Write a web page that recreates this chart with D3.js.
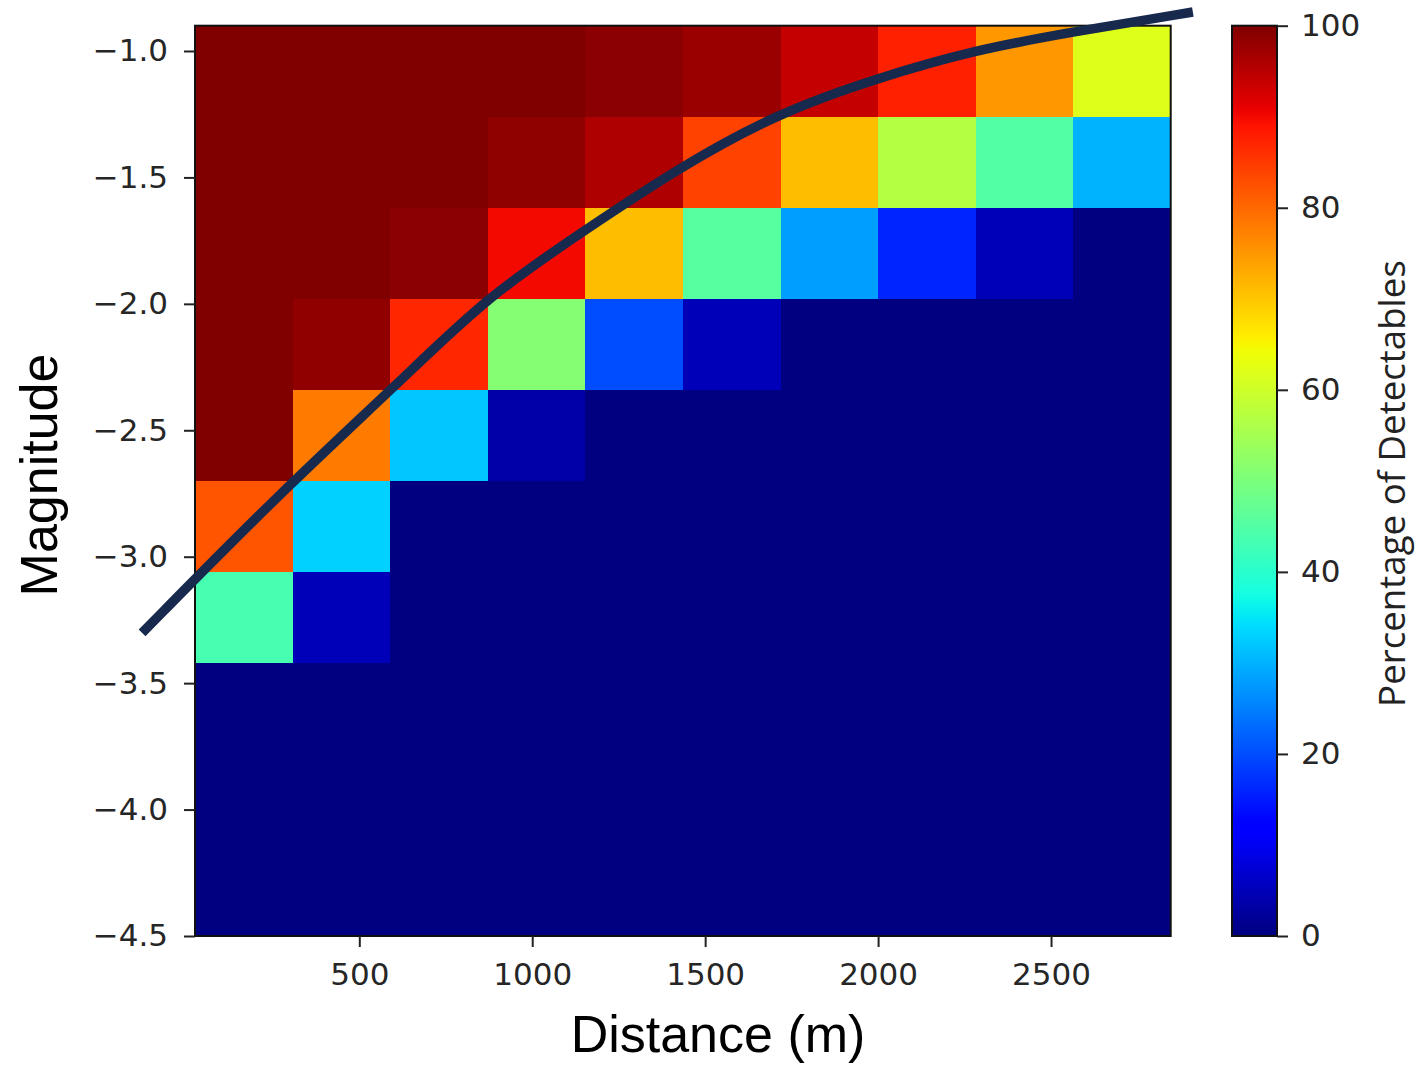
<!DOCTYPE html>
<html>
<head>
<meta charset="utf-8">
<script src="https://cdn.jsdelivr.net/npm/d3@7"></script>
<style>
  body { margin: 0; background: #ffffff; }
  svg { display: block; }
</style>
</head>
<body>
<svg id="chart" width="1417" height="1066"></svg>
<script>
// ---------------- DATA ----------------
// Distance bin edges (m)
const distanceEdges = [25, 307, 589, 871, 1153, 1435, 1718, 2000, 2282, 2564, 2846];
// Magnitude bin edges, top to bottom
const magnitudeEdges = [-0.90, -1.26, -1.62, -1.98, -2.34, -2.70, -3.06, -3.42, -3.78, -4.14, -4.50];
// Percentage of detectables, one array per magnitude row (top row first)
const row1 = [100, 100, 100, 100, 99, 97.7, 94, 87.6, 75, 62];
const row2 = [100, 100, 100, 98.7, 96, 84, 71, 57, 45, 30];
const row3 = [100, 100, 99, 90, 71, 45.5, 28, 16, 5, 0];
const row4 = [100, 98.6, 87, 51, 20, 5, 0, 0, 0, 0];
const row5 = [100, 78, 32, 3.5, 0, 0, 0, 0, 0, 0];
const row6 = [82, 33, 0, 0, 0, 0, 0, 0, 0, 0];
const row7 = [43.5, 5, 0, 0, 0, 0, 0, 0, 0, 0];
const row8 = [0, 0, 0, 0, 0, 0, 0, 0, 0, 0];
const row9 = [0, 0, 0, 0, 0, 0, 0, 0, 0, 0];
const row10 = [0, 0, 0, 0, 0, 0, 0, 0, 0, 0];
const detectRows = [row1, row2, row3, row4, row5, row6, row7, row8, row9, row10];

// Detection threshold curve (distance m, magnitude)
const curveDistance = [-128, 271, 623, 869, 1153, 1427, 1711, 1997, 2280, 2561, 2910];
const curveMagnitude = [-3.301, -2.747, -2.301, -1.972, -1.708, -1.459, -1.245, -1.107, -0.996, -0.925, -0.846];

// Tick labels
const xTicks = [500, 1000, 1500, 2000, 2500];
const yTicks = [-1.0, -1.5, -2.0, -2.5, -3.0, -3.5, -4.0, -4.5];
const cbTicks = [0, 20, 40, 60, 80, 100];

// ---------------- JET COLORMAP (matplotlib segment data) ----------------
const jetSeg = {
  r: [[0, 0], [0.35, 0], [0.66, 1], [0.89, 1], [1, 0.5]],
  g: [[0, 0], [0.125, 0], [0.375, 1], [0.64, 1], [0.91, 0], [1, 0]],
  b: [[0, 0.5], [0.11, 1], [0.34, 1], [0.65, 0], [1, 0]]
};
function seg(pts, t) {
  for (let i = 1; i < pts.length; i++) {
    if (t <= pts[i][0]) {
      const [x0, y0] = pts[i - 1], [x1, y1] = pts[i];
      return y0 + (y1 - y0) * (t - x0) / (x1 - x0);
    }
  }
  return pts[pts.length - 1][1];
}
function jet(t) {
  t = Math.max(0, Math.min(1, t));
  return d3.rgb(seg(jetSeg.r, t) * 255, seg(jetSeg.g, t) * 255, seg(jetSeg.b, t) * 255).formatHex();
}

// ---------------- LAYOUT ----------------
const svg = d3.select("#chart");
const plot = { left: 195, right: 1170.7, top: 25.7, bottom: 936 };
const cb = { left: 1232, right: 1277, top: 25.7, bottom: 936 };

const x = d3.scaleLinear().domain([25, 2846]).range([plot.left, plot.right]);
const y = d3.scaleLinear().domain([-4.5, -0.9]).range([plot.bottom, plot.top]);
const color = d3.scaleSequential(v => jet(v)).domain([0, 100]);

const tickFont = "'DejaVu Sans', sans-serif";
const tickColor = "#262626";

// ---------------- HEATMAP CELLS ----------------
const cells = [];
detectRows.forEach((row, ri) => {
  row.forEach((v, ci) => {
    cells.push({
      x0: distanceEdges[ci], x1: distanceEdges[ci + 1],
      yTop: magnitudeEdges[ri], yBot: magnitudeEdges[ri + 1], v
    });
  });
});
svg.append("g").selectAll("rect").data(cells).join("rect")
  .attr("x", d => x(d.x0))
  .attr("y", d => y(d.yTop))
  .attr("width", d => x(d.x1) - x(d.x0) + 0.5)
  .attr("height", d => y(d.yBot) - y(d.yTop) + 0.5)
  .attr("fill", d => color(d.v))
  .attr("shape-rendering", "crispEdges");

// frame
svg.append("rect")
  .attr("x", plot.left).attr("y", plot.top)
  .attr("width", plot.right - plot.left).attr("height", plot.bottom - plot.top)
  .attr("fill", "none").attr("stroke", "#111").attr("stroke-width", 2);

// ---------------- AXES ----------------
const xAxis = svg.append("g")
  .attr("transform", `translate(0,${plot.bottom})`)
  .call(d3.axisBottom(x).tickValues(xTicks).tickFormat(d3.format("d")).tickSize(11).tickPadding(16));
const yAxis = svg.append("g")
  .attr("transform", `translate(${plot.left},0)`)
  .call(d3.axisLeft(y).tickValues(yTicks).tickFormat(d => d3.format(".1f")(d).replace("-", "\u2212")).tickSize(11).tickPadding(16));
[xAxis, yAxis].forEach(g => {
  g.select(".domain").remove();
  g.selectAll(".tick line").attr("stroke", "#222").attr("stroke-width", 2);
  g.selectAll(".tick text").attr("fill", tickColor).style("font-family", tickFont).style("font-size", "31px");
});

// axis titles
svg.append("text")
  .attr("x", 718).attr("y", 1052)
  .attr("text-anchor", "middle")
  .style("font-family", "'Liberation Sans', Arial, sans-serif")
  .style("font-size", "52px")
  .attr("fill", "#000")
  .text("Distance (m)");
svg.append("text")
  .attr("transform", "translate(57,475) rotate(-90)")
  .attr("text-anchor", "middle")
  .style("font-family", "'Liberation Sans', Arial, sans-serif")
  .style("font-size", "52px")
  .attr("fill", "#000")
  .text("Magnitude");

// ---------------- COLORBAR ----------------
const cbScale = d3.scaleLinear().domain([0, 100]).range([cb.bottom, cb.top]);
const defs = svg.append("defs");
const grad = defs.append("linearGradient").attr("id", "jetGrad")
  .attr("x1", 0).attr("y1", 1).attr("x2", 0).attr("y2", 0);
grad.selectAll("stop").data(d3.range(0, 101, 1)).join("stop")
  .attr("offset", d => d + "%")
  .attr("stop-color", d => color(d));
svg.append("rect")
  .attr("x", cb.left).attr("y", cb.top)
  .attr("width", cb.right - cb.left).attr("height", cb.bottom - cb.top)
  .attr("fill", "url(#jetGrad)")
  .attr("stroke", "#111").attr("stroke-width", 2);
const cbAxis = svg.append("g")
  .attr("transform", `translate(${cb.right},0)`)
  .call(d3.axisRight(cbScale).tickValues(cbTicks).tickSize(11).tickPadding(13));
cbAxis.select(".domain").remove();
cbAxis.selectAll(".tick line").attr("stroke", "#222").attr("stroke-width", 2);
cbAxis.selectAll(".tick text").attr("fill", tickColor).style("font-family", tickFont).style("font-size", "31px");

const cbLabel = svg.append("text")
  .attr("transform", "translate(1405,483.5) rotate(-90)")
  .attr("text-anchor", "middle")
  .style("font-family", "'Open Sans', sans-serif")
  .style("font-size", "32px")
  .attr("fill", "#222")
  .text("Percentage of Detectables");
const len = cbLabel.node().getComputedTextLength();
if (len > 0) cbLabel.style("font-size", (32 * 447 / len).toFixed(2) + "px");

// ---------------- THRESHOLD CURVE ----------------
const curvePts = curveDistance.map((d, i) => [d, curveMagnitude[i]]);
svg.append("path")
  .datum(curvePts)
  .attr("d", d3.line().x(d => x(d[0])).y(d => y(d[1])).curve(d3.curveBasis))
  .attr("fill", "none")
  .attr("stroke", "#172a4e")
  .attr("stroke-width", 9.5)
  .attr("stroke-linecap", "butt");
</script>
</body>
</html>
